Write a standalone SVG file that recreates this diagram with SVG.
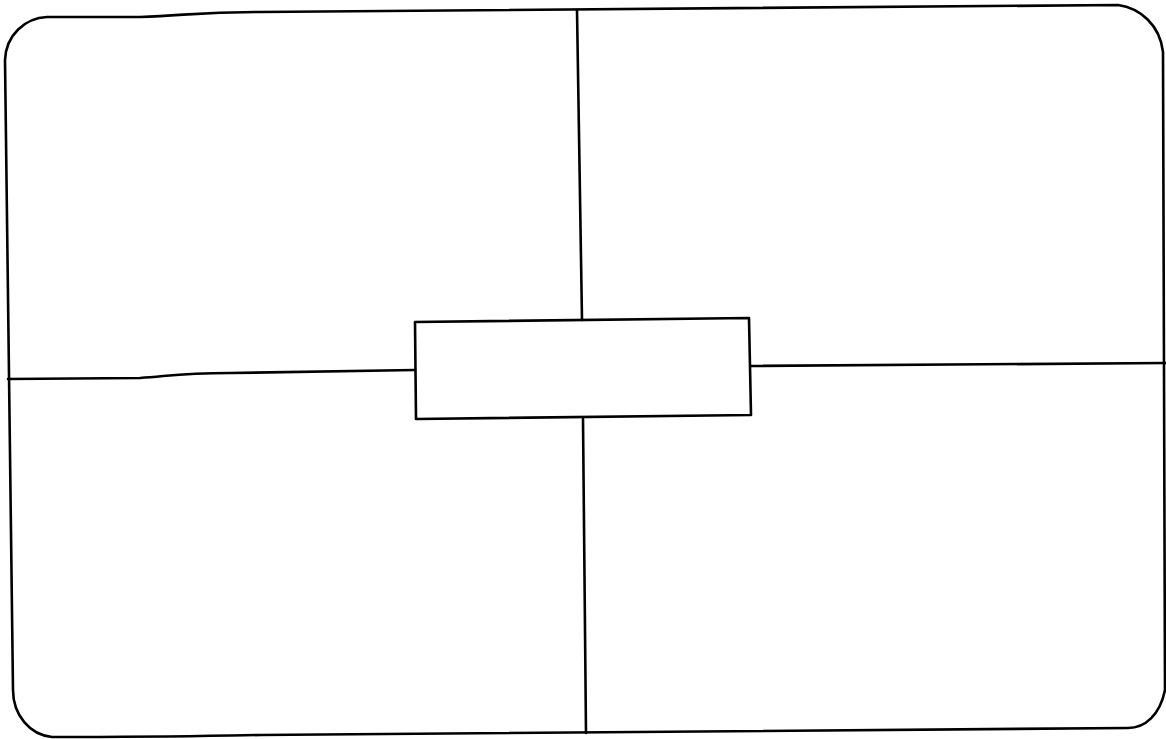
<svg xmlns="http://www.w3.org/2000/svg" width="1166" height="739" viewBox="0 0 1166 739">
<style>
.ln{fill:none;stroke:#000;stroke-width:2.6;stroke-linecap:round;stroke-linejoin:round}
</style>
<rect x="0" y="0" width="1166" height="739" fill="#fff"/>
<g id="frame">
<path class="ln" d="M47,17 L140,17 C190,15 200,12 260,12 L1118,5 C1140,8 1160,25 1163,52 L1165,690 C1160,715 1145,728 1128,728 L260,735 C200,736 170,737 52,737 C30,735 13,715 13,690 L5,60 C6,35 25,18 47,17 Z"/>
</g>
<g id="connectors">
<path class="ln" d="M577,10 L582,320"/>
<path class="ln" d="M583,419 L586,733"/>
<path class="ln" d="M8,379 L140,378 C170,376 180,373 230,373 L415,370"/>
<path class="ln" d="M751,366 L1166,363"/>
</g>
<g id="center">
<path class="ln" d="M415,322 L749,318 L751,415 L416,419 Z" fill="#fff"/>
</g>
</svg>
